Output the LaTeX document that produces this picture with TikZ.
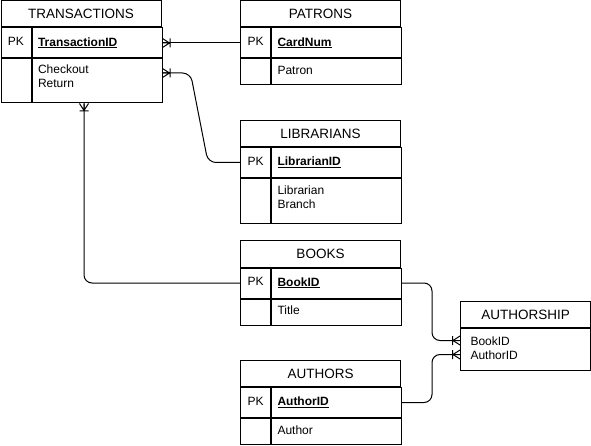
\documentclass[tikz,border=0pt]{standalone}
\usepackage{fontspec}
\setmainfont{Liberation Sans}
\usepackage{tikz}
\usetikzlibrary{calc,decorations.markings}
\tikzset{
  tabtitle/.style  = {draw, line width=1pt, anchor=north west, inner sep=0pt,
                      minimum width=160pt, minimum height=26pt, font=\fontsize{13.5}{16}\selectfont},
  keycell/.style   = {draw, line width=1pt, anchor=north west, inner sep=0pt, text depth=2.5pt,
                      minimum width=30pt, font=\fontsize{12}{14}\selectfont},
  fieldcell/.style = {draw, line width=1pt, anchor=north west, align=left, text width=118pt,
                      inner xsep=6pt, inner ysep=0pt, text depth=2.5pt, font=\fontsize{12}{14}\selectfont},
  pkfield/.style   = {fieldcell, font=\fontsize{12}{14}\selectfont\bfseries},
  link/.style      = {line width=1pt, rounded corners=8pt},
  manystart/.style = {postaction={decorate, decoration={markings, mark=at position 0 with
                      {\draw[line width=1pt, sharp corners] (0,4.5pt) -- (7pt,0) -- (0,-4.5pt) (0,0) -- (7pt,0)
                       (7.5pt,4.5pt) -- (7.5pt,-4.5pt);}}}},
  manyend/.style   = {postaction={decorate, decoration={markings, mark=at position 1 with
                      {\draw[line width=1pt, sharp corners] (0,4.5pt) -- (-7pt,0) -- (0,-4.5pt)
                       (-7.5pt,4.5pt) -- (-7.5pt,-4.5pt);}}}}
}
\newcommand{\pkey}[1]{\underline{#1}}

\begin{document}
\begin{tikzpicture}[x=1pt, y=-1pt]
  \useasboundingbox (0,0) rectangle (591,446);

  % TRANSACTIONS
  \node[tabtitle] (trans) at (0.5,0.5) {TRANSACTIONS};
  \node[keycell, minimum height=30pt] (trans-pk) at (trans.south west) {PK};
  \node[pkfield, minimum height=30pt] (trans-id) at (trans-pk.north east) {\pkey{TransactionID}};
  \node[keycell, minimum height=44pt] (trans-nk) at (trans-pk.south west) {};
  \node[fieldcell, minimum height=44pt, text depth=23pt] (trans-at) at (trans-nk.north east) {Checkout\\Return};

  % PATRONS
  \node[tabtitle] (patr) at (240,0.5) {PATRONS};
  \node[keycell, minimum height=30pt] (patr-pk) at (patr.south west) {PK};
  \node[pkfield, minimum height=30pt] (patr-id) at (patr-pk.north east) {\pkey{CardNum}};
  \node[keycell, minimum height=26pt] (patr-nk) at (patr-pk.south west) {};
  \node[fieldcell, minimum height=26pt, text depth=3.5pt] (patr-at) at (patr-nk.north east) {Patron};

  % LIBRARIANS
  \node[tabtitle] (lib) at (240,120) {LIBRARIANS};
  \node[keycell, minimum height=30pt] (lib-pk) at (lib.south west) {PK};
  \node[pkfield, minimum height=30pt] (lib-id) at (lib-pk.north east) {\pkey{LibrarianID}};
  \node[keycell, minimum height=45pt] (lib-nk) at (lib-pk.south west) {};
  \node[fieldcell, minimum height=45pt, text depth=21pt] (lib-at) at (lib-nk.north east) {Librarian\\Branch};

  % BOOKS
  \node[tabtitle] (book) at (240,240.5) {BOOKS};
  \node[keycell, minimum height=30pt] (book-pk) at (book.south west) {PK};
  \node[pkfield, minimum height=30pt] (book-id) at (book-pk.north east) {\pkey{BookID}};
  \node[keycell, minimum height=26pt] (book-nk) at (book-pk.south west) {};
  \node[fieldcell, minimum height=26pt, text depth=3.5pt] (book-at) at (book-nk.north east) {Title};

  % AUTHORS
  \node[tabtitle] (auth) at (240,360) {AUTHORS};
  \node[keycell, minimum height=30pt] (auth-pk) at (auth.south west) {PK};
  \node[pkfield, minimum height=30pt] (auth-id) at (auth-pk.north east) {\pkey{AuthorID}};
  \node[keycell, minimum height=26pt] (auth-nk) at (auth-pk.south west) {};
  \node[fieldcell, minimum height=26pt, text depth=3.5pt] (auth-at) at (auth-nk.north east) {Author};

  % AUTHORSHIP
  \node[tabtitle, minimum width=130pt] (ship) at (460,301) {AUTHORSHIP};
  \node[fieldcell, minimum height=42pt, text width=110pt, inner xsep=10pt, text depth=17pt] (ship-at) at (ship.south west) {BookID\\AuthorID};

  % relations
  \draw[link, manystart] (trans-id.east) -- (patr-pk.west);
  \draw[link, manystart] ([yshift=8pt]trans-at.east) -- ++(28pt,0) -- ($(lib-pk.west)+(-32,0)$) -- (lib-pk.west);
  \draw[link, manystart] ([xshift=3pt]trans.south |- trans-at.south) |- (book-pk.west);
  \draw[link, manyend] (book-id.east) -- ++(30pt,0) |- ([yshift=9pt]ship-at.west);
  \draw[link, manyend] (auth-id.east) -- ++(30pt,0) |- ([yshift=-5pt]ship-at.west);
\end{tikzpicture}
\end{document}
